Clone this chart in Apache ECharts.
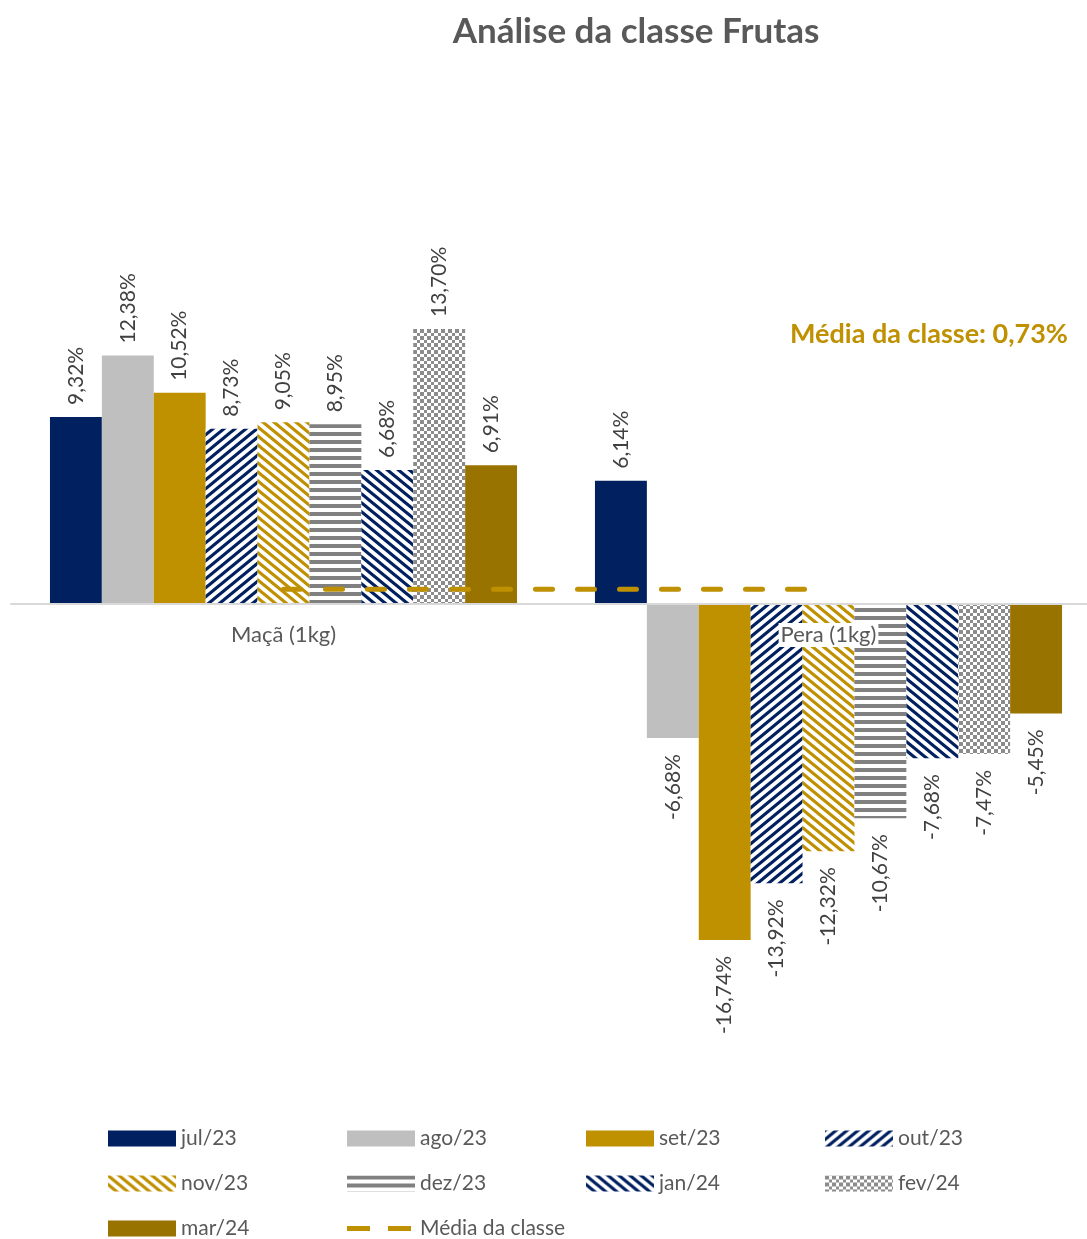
<!DOCTYPE html>
<html>
<head>
<meta charset="utf-8">
<script src="https://cdn.jsdelivr.net/npm/echarts@6/dist/echarts.min.js"></script>
<style>
  html, body { margin: 0; padding: 0; background: #fff; }
  #chart { width: 1087px; height: 1239px; }
</style>
</head>
<body>
<div id="chart"></div>
<script>
// values
const categories = ['Maçã (1kg)', 'Pera (1kg)'];
const months = ['jul/23', 'ago/23', 'set/23', 'out/23', 'nov/23', 'dez/23', 'jan/24', 'fev/24', 'mar/24'];
const macaValues = [9.32, 12.38, 10.52, 8.73, 9.05, 8.95, 6.68, 13.70, 6.91];
const peraValues = [6.14, -6.68, -16.74, -13.92, -12.32, -10.67, -7.68, -7.47, -5.45];
const mediaClasse = 0.73;
const mediaName = 'Média da classe';

const NAVY = '#002060';
const GOLD = '#bf9000';
const TEXT = '#595959';

// small canvas tiles for the hatch fills
function makeTile(w, h, draw) {
  const c = document.createElement('canvas');
  c.width = w; c.height = h;
  const ctx = c.getContext('2d');
  ctx.fillStyle = '#fff';
  ctx.fillRect(0, 0, w, h);
  draw(ctx, w, h);
  return { image: c, repeat: 'repeat' };
}

function diagonal(color, up) {
  return makeTile(11, 9, (ctx, w, h) => {
    ctx.strokeStyle = color;
    ctx.lineWidth = 3.2;
    ctx.beginPath();
    for (let k = -1; k <= 1; k++) {
      if (up) {
        ctx.moveTo(k * w - w, 2 * h);
        ctx.lineTo(k * w + 2 * w, -h);
      } else {
        ctx.moveTo(k * w - w, -h);
        ctx.lineTo(k * w + 2 * w, 2 * h);
      }
    }
    ctx.stroke();
  });
}

const horizontal = makeTile(8, 8, (ctx) => {
  ctx.fillStyle = '#808080';
  ctx.fillRect(0, 0, 8, 4);
});

const checker = makeTile(7, 7, (ctx) => {
  ctx.fillStyle = '#8c8c8c';
  ctx.fillRect(0, 0, 4, 4);
  ctx.fillRect(4, 4, 3, 3);
});

const fills = [
  NAVY,
  '#bfbfbf',
  GOLD,
  diagonal(NAVY, true),
  diagonal(GOLD, false),
  horizontal,
  diagonal(NAVY, false),
  checker,
  '#997300',
];

function fmt(v) {
  return v.toFixed(2).replace('.', ',') + '%';
}

function barItem(v) {
  const pos = v >= 0;
  return {
    value: v,
    label: {
      show: true,
      position: pos ? 'top' : 'bottom',
      rotate: 90,
      align: pos ? 'left' : 'right',
      verticalAlign: 'middle',
      distance: pos ? 12 : 16,
      formatter: p => fmt(p.value),
      fontFamily: 'Lato',
      fontSize: 21,
      color: '#404040',
    },
  };
}

const series = months.map((m, i) => ({
  name: m,
  type: 'bar',
  barGap: 0,
  barCategoryGap: '14.3%',
  itemStyle: { color: fills[i] },
  data: [barItem(macaValues[i]), barItem(peraValues[i])],
}));

series.push({
  name: mediaName,
  type: 'line',
  symbol: 'none',
  z: 5,
  data: [mediaClasse, mediaClasse],
  itemStyle: { color: GOLD },
  lineStyle: { color: GOLD, width: 5, type: [17, 25], cap: 'round' },
});

// legend entries: plain rectangles, and two dashes for the mean line
const legendData = months.map(m => ({ name: m, icon: 'rect' }));
legendData.push({
  name: mediaName,
  icon: 'path://M0,0h0.01v0.01h-0.01z M0,5.5h23v5h-23z M41,5.5h23v5h-23z M67.99,15.99h0.01v0.01h-0.01z',
});

const chart = echarts.init(document.getElementById('chart'), null, { renderer: 'canvas' });

const gridTop = 202.6;
const gridHeight = 802.8;

chart.setOption({
  animation: false,
  title: {
    text: 'Análise da classe Frutas',
    left: 631,
    textAlign: 'center',
    top: 9,
    textStyle: { fontFamily: 'Lato', fontSize: 35, fontWeight: 'bold', color: TEXT },
  },
  grid: {
    left: 11,
    right: -14,
    top: gridTop,
    height: gridHeight,
    outerBoundsMode: 'none',
    containLabel: false,
  },
  xAxis: {
    type: 'category',
    data: categories,
    position: 'bottom',
    offset: -gridHeight / 2,
    z: 10,
    axisLine: { onZero: false, lineStyle: { color: '#d9d9d9', width: 2 } },
    axisTick: { show: false },
    axisLabel: {
      fontFamily: 'Lato',
      fontSize: 22,
      color: TEXT,
      margin: 19,
      backgroundColor: '#fff',
      padding: [1, 2],
    },
  },
  yAxis: {
    type: 'value',
    min: -20,
    max: 20,
    show: false,
    splitLine: { show: false },
  },
  legend: {
    left: 108,
    top: 1124,
    width: 980,
    padding: 0,
    itemWidth: 68,
    itemHeight: 16,
    itemGap: 16,
    textStyle: { fontFamily: 'Lato', fontSize: 21, color: TEXT, width: 150, lineHeight: 29 },
    data: legendData,
  },
  graphic: [{
    type: 'text',
    right: 19,
    top: 321,
    style: {
      text: 'Média da classe: 0,73%',
      font: 'bold 27px Lato',
      fill: GOLD,
    },
  }],
  series: series,
});
</script>
</body>
</html>
